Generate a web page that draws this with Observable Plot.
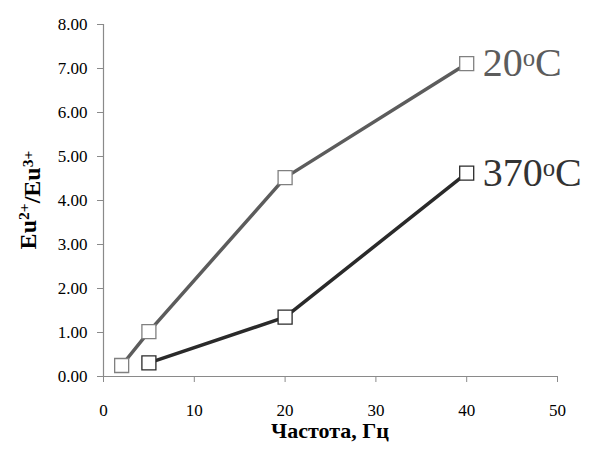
<!DOCTYPE html>
<html>
<head>
<meta charset="utf-8">
<script src="https://cdn.jsdelivr.net/npm/d3@7"></script>
<script src="https://cdn.jsdelivr.net/npm/@observablehq/plot@0.6"></script>
<style>
  body { margin: 0; background: #fff; }
</style>
</head>
<body>
<div id="chart"></div>
<script>
// Data
const freq20 = [2, 5, 20, 40];
const ratio20 = [0.25, 1.02, 4.52, 7.11];
const freq370 = [5, 20, 40];
const ratio370 = [0.31, 1.35, 4.62];
const seriesNames = ["20ºC", "370ºC"];
const xTicks = [0, 10, 20, 30, 40, 50];
const yTicks = [0, 1, 2, 3, 4, 5, 6, 7, 8];

const d20 = freq20.map((f, i) => ({f, r: ratio20[i], s: seriesNames[0]}));
const d370 = freq370.map((f, i) => ({f, r: ratio370[i], s: seriesNames[1]}));
const ends = [d20[d20.length - 1], d370[d370.length - 1]];

const c20 = "#5c5c5c", c370 = "#2a2a2a";
const mk20 = "#808080", mk370 = "#2a2a2a";

const plot = Plot.plot({
  width: 597,
  height: 457,
  marginLeft: 103,
  marginRight: 40,
  marginTop: 24,
  marginBottom: 81,
  x: {domain: [0, 50]},
  y: {domain: [0, 8]},
  marks: [
    Plot.axisX({ticks: xTicks, tickFormat: "d", tickSize: 6, tickPadding: 21, stroke: "#8a8a8a", fill: "#000", fontSize: 17, label: null}),
    Plot.axisY({ticks: yTicks, tickFormat: ".2f", tickSize: 6, tickPadding: 10, stroke: "#8a8a8a", fill: "#000", fontSize: 17, label: null}),
    Plot.ruleY([0], {stroke: "#8a8a8a", strokeWidth: 1.2}),
    Plot.ruleX([0], {stroke: "#8a8a8a", strokeWidth: 1.2}),
    Plot.line(d20, {x: "f", y: "r", stroke: c20, strokeWidth: 3.5}),
    Plot.line(d370, {x: "f", y: "r", stroke: c370, strokeWidth: 3.5}),
    Plot.dot(d20, {x: "f", y: "r", symbol: "square", r: 7.9, fill: "#fff", stroke: mk20, strokeWidth: 1.3}),
    Plot.dot(d370, {x: "f", y: "r", symbol: "square", r: 7.9, fill: "#fff", stroke: mk370, strokeWidth: 1.3}),
    Plot.text(ends, {x: "f", y: "r", text: "s", textAnchor: "start", lineAnchor: "middle", dx: 16, fontSize: 40,
      fill: (d) => d.s === seriesNames[0] ? c20 : "#333"})
  ]
});

const svg = d3.select(plot);
// superscript o in series labels
svg.selectAll("g[aria-label='text'] text").each(function() {
  const t = d3.select(this);
  const s = t.text();
  const parts = s.split("º");
  t.text(null);
  t.append("tspan").text(parts[0]);
  t.append("tspan").attr("dy", "-0.42em").attr("font-size", "0.62em").text("o");
  t.append("tspan").attr("dy", "0.26em").text(parts[1]);
});

// y axis label with superscripts
const yl = svg.append("text")
  .attr("transform", "translate(36,200) rotate(-90)")
  .attr("text-anchor", "middle")
  .attr("font-weight", "bold")
  .attr("font-size", 24)
  .attr("fill", "#000");
yl.append("tspan").text("Eu");
yl.append("tspan").attr("dy", "-0.45em").attr("font-size", "0.65em").text("2+");
yl.append("tspan").attr("dy", "0.45em").text("/Eu");
yl.append("tspan").attr("dy", "-0.45em").attr("font-size", "0.65em").text("3+");

// x axis label
svg.append("text")
  .attr("x", 330).attr("y", 438)
  .attr("text-anchor", "middle")
  .attr("font-weight", "bold")
  .attr("font-size", 22)
  .attr("fill", "#000")
  .text("Частота, Гц");

// request serif font everywhere
plot.style.setProperty("font-family", "'Liberation Serif', serif", "important");
svg.selectAll("text, tspan").each(function() {
  this.style.setProperty("font-family", "'Liberation Serif', serif", "important");
});

document.getElementById("chart").appendChild(plot);
</script>
</body>
</html>
